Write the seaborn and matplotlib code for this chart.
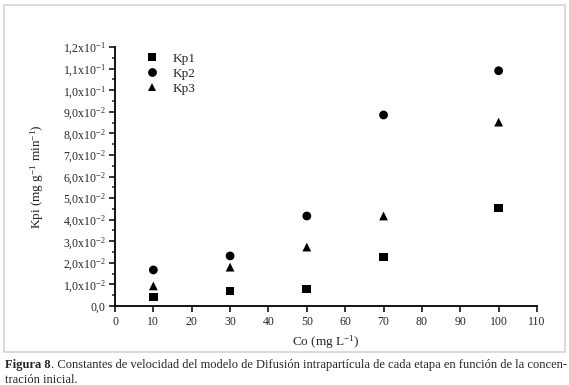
import pandas as pd
import matplotlib.pyplot as plt
import matplotlib.patches as mpatches
import seaborn as sns
import numpy as np

# datos
co = [10, 30, 50, 70, 100]
kp1 = [0.0042, 0.0069, 0.0079, 0.0227, 0.0454]
kp2 = [0.0167, 0.0232, 0.0417, 0.0885, 0.1090]
kp3 = [0.0093, 0.0180, 0.0273, 0.0417, 0.0852]

y_ticks = [0.0, 0.01, 0.02, 0.03, 0.04, 0.05, 0.06, 0.07, 0.08, 0.09, 0.10, 0.11, 0.12]
y_labels = ['0,0', '1,0x10$^{-2}$', '2,0x10$^{-2}$', '3,0x10$^{-2}$', '4,0x10$^{-2}$',
            '5,0x10$^{-2}$', '6,0x10$^{-2}$', '7,0x10$^{-2}$', '8,0x10$^{-2}$',
            '9,0x10$^{-2}$', '1,0x10$^{-1}$', '1,1x10$^{-1}$', '1,2x10$^{-1}$']
x_ticks = list(range(0, 111, 10))

sns.set_style('ticks')
plt.rcParams['font.family'] = ['Liberation Serif', 'DejaVu Serif']
plt.rcParams['mathtext.fontset'] = 'custom'
plt.rcParams['mathtext.rm'] = 'Liberation Serif'
plt.rcParams['mathtext.it'] = 'Liberation Serif:italic'
plt.rcParams['mathtext.default'] = 'regular'

df = pd.DataFrame({
    'Co': co * 3,
    'Kp': kp1 + kp2 + kp3,
    'serie': ['Kp1'] * 5 + ['Kp2'] * 5 + ['Kp3'] * 5,
})

fig = plt.figure(figsize=(5.69, 3.85), dpi=100)
ax = fig.add_axes([115 / 569, 1 - 306 / 385, 422 / 569, 259 / 385])

sns.scatterplot(data=df, x='Co', y='Kp', style='serie',
                markers={'Kp1': 's', 'Kp2': 'o', 'Kp3': '^'},
                color='black', s=40, linewidth=0, ax=ax, clip_on=False)

ax.set_xlim(0, 110)
ax.set_ylim(0, 0.12)
ax.set_xticks(x_ticks)
ax.set_yticks(y_ticks)
ax.set_yticklabels(y_labels)
ax.set_yticks(np.arange(0.005, 0.12, 0.01), minor=True)
ax.tick_params(axis='both', which='major', labelsize=8.5, length=4, width=1.1, color='black', pad=3)
ax.tick_params(axis='y', which='minor', length=2.5, width=1.1)
sns.despine(ax=ax)
for sp in ['left', 'bottom']:
    ax.spines[sp].set_linewidth(1.3)
    ax.spines[sp].set_color('black')

ax.set_xlabel('Co (mg L$^{-1}$)', fontsize=9.5, labelpad=4)
ax.set_ylabel('Kpi (mg g$^{-1}$ min$^{-1}$)', fontsize=9.5, labelpad=12)

ax.legend(loc='upper left', bbox_to_anchor=(0.045, 1.0), frameon=False,
          fontsize=9.5, handletextpad=0.5, labelspacing=0.22, borderaxespad=0)

# marco de la figura
fig.patches.append(mpatches.Rectangle((4 / 569, 1 - 352 / 385), 561 / 569, 347 / 385,
                                      transform=fig.transFigure, fill=False,
                                      edgecolor='#d4d4d4', linewidth=1.2))

# pie de figura
t1 = fig.text(5 / 569, 1 - 368 / 385, 'Figura 8', fontsize=9, fontweight='bold')
ax.annotate('. Constantes de velocidad del modelo de Difusión intrapartícula de cada etapa en función de la concen-',
            xy=(1, 0), xycoords=t1, va='bottom', ha='left', fontsize=9, annotation_clip=False)
fig.text(5 / 569, 1 - 383 / 385, 'tración inicial.', fontsize=9)

plt.savefig('out.png', dpi=100)
plt.close()
